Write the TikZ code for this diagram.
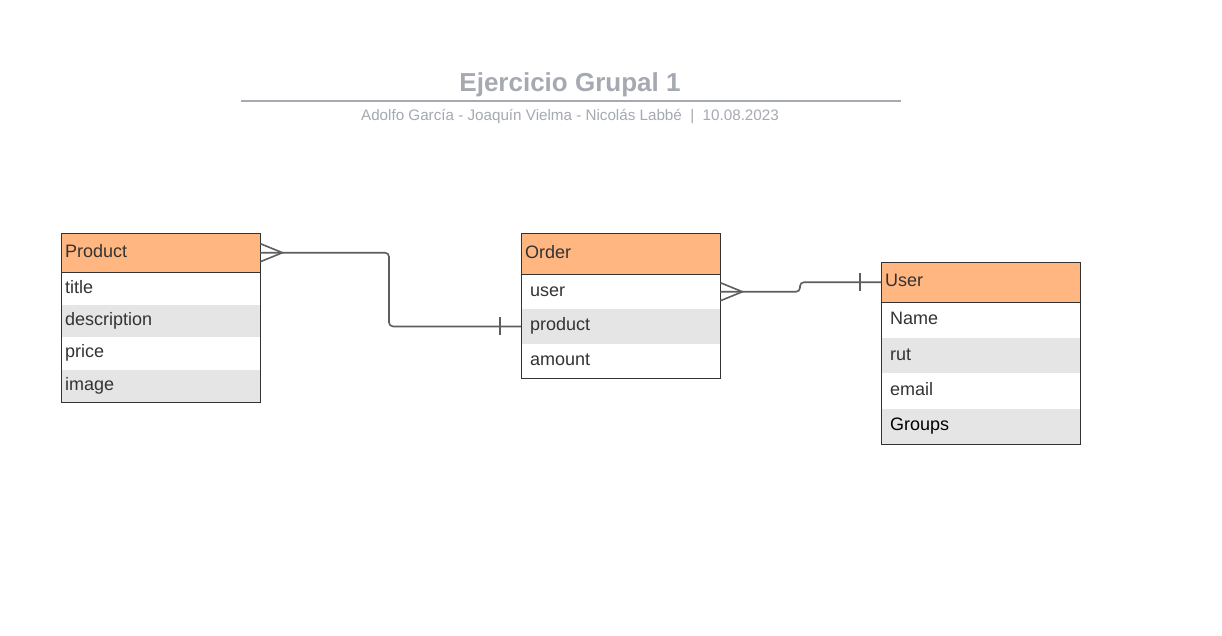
\documentclass[tikz,border=0pt]{standalone}
\usepackage{fontspec}
\setmainfont{Liberation Sans}
\usetikzlibrary{positioning}
\definecolor{hdrOrange}{HTML}{FFB680}
\definecolor{rowGray}{HTML}{E5E5E5}
\definecolor{lineGray}{HTML}{5E5E5E}
\definecolor{titleGray}{HTML}{A5A9B2}
\definecolor{txtDark}{HTML}{333333}
\tikzstyle{conn} = [draw=lineGray, line width=1.6pt]
\tikzstyle{tHead} = [rectangle, fill=hdrOrange, inner xsep=4pt, inner ysep=0pt, text height=13pt, text depth=4pt, anchor=north west, align=left, text=txtDark, font=\fontsize{18}{21}\selectfont]
\tikzstyle{tRow} = [rectangle, fill=white, inner ysep=0pt, text height=13pt, text depth=4pt, align=left, text=txtDark, font=\fontsize{18}{21}\selectfont]
\tikzstyle{tRowAlt} = [tRow, fill=rowGray]
\tikzstyle{tBorder} = [draw=txtDark, line width=0.8pt]

\begin{document}
\begin{tikzpicture}[x=1pt, y=1pt]
        \useasboundingbox[fill=white] (0,0) rectangle (1222,-636);
        % title
        \node[text=titleGray, font=\bfseries\fontsize{26}{30}\selectfont] (Title) at (570,-85) {Ejercicio Grupal 1};
        \coordinate (RuleL) at (241,-101);
        \coordinate (RuleR) at (901,-101);
        \draw[draw=titleGray, line width=1.6pt] (RuleL) -- (RuleR);
        \node[text=titleGray, font=\fontsize{15.2}{17}\selectfont] (Subtitle) at (570,-117) {Adolfo García - Joaquín Vielma - Nicolás Labbé~~|~~10.08.2023};

        % Product
        \node[tHead, text width=191pt, minimum height=39pt] (Phead) at (61,-233) {Product};
        \node[tRow, inner xsep=4pt, text width=191pt, minimum height=32pt, below=0pt of Phead] (Ptitle) {title};
        \node[tRowAlt, inner xsep=4pt, text width=191pt, minimum height=32pt, below=0pt of Ptitle] (Pdesc) {description};
        \node[tRow, inner xsep=4pt, text width=191pt, minimum height=32pt, below=0pt of Pdesc] (Pprice) {price};
        \node[tRowAlt, inner xsep=4pt, text width=191pt, minimum height=32pt, below=0pt of Pprice] (Pimage) {image};
        \draw[tBorder] (Phead.south west) -- (Phead.south east);
        \draw[tBorder] (Phead.north west) rectangle (Pimage.south east);

        % Order
        \node[tHead, text width=191pt, minimum height=41pt] (Ohead) at (521,-233) {Order};
        \node[tRow, inner xsep=9pt, text width=181pt, minimum height=34.3pt, below=0pt of Ohead] (Ouser) {user};
        \node[tRowAlt, inner xsep=9pt, text width=181pt, minimum height=34.3pt, below=0pt of Ouser] (Oproduct) {product};
        \node[tRow, inner xsep=9pt, text width=181pt, minimum height=34.3pt, below=0pt of Oproduct] (Oamount) {amount};
        \draw[tBorder] (Ohead.south west) -- (Ohead.south east);
        \draw[tBorder] (Ohead.north west) rectangle (Oamount.south east);

        % User
        \node[tHead, text width=191pt, minimum height=40pt] (Uhead) at (881,-262) {User};
        \node[tRow, inner xsep=9pt, text width=181pt, minimum height=35pt, below=0pt of Uhead] (Uname) {Name};
        \node[tRowAlt, inner xsep=9pt, text width=181pt, minimum height=35pt, below=0pt of Uname] (Urut) {rut};
        \node[tRow, inner xsep=9pt, text width=181pt, minimum height=35pt, below=0pt of Urut] (Uemail) {email};
        \node[tRowAlt, inner xsep=9pt, text width=181pt, minimum height=35pt, text=black, below=0pt of Uemail] (Ugroups) {Groups};
        \draw[txtDark, line width=1.8pt] (Uhead.south west) -- (Uhead.south east);
        \draw[tBorder] (Uhead.north west) rectangle (Ugroups.south east);

        % Product (many) -- Order.product (one)
        \coordinate (PObend) at (389,0);
        \draw[conn, rounded corners=4pt] (Phead.east) -| (PObend |- Oproduct.west) -- (Oproduct.west);
        \draw[conn] ([yshift=9pt]Phead.east) -- ([xshift=22pt]Phead.east) -- ([yshift=-9pt]Phead.east);
        \draw[conn] ([xshift=-21pt,yshift=9pt]Oproduct.west) -- ([xshift=-21pt,yshift=-9pt]Oproduct.west);

        % Order.user (many) -- User (one)
        \coordinate (OUbend) at (800,0);
        \draw[conn, rounded corners=4pt] (Ouser.east) -| (OUbend |- Uhead.west) -- (Uhead.west);
        \draw[conn] ([yshift=9pt]Ouser.east) -- ([xshift=22pt]Ouser.east) -- ([yshift=-9pt]Ouser.east);
        \draw[conn] ([xshift=-21pt,yshift=9pt]Uhead.west) -- ([xshift=-21pt,yshift=-9pt]Uhead.west);
    \end{tikzpicture}
\end{document}
